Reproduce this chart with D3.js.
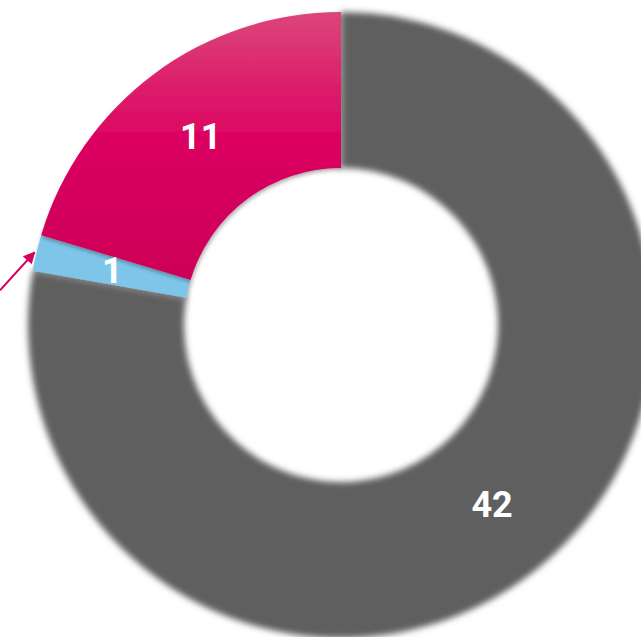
<script src="https://d3js.org/d3.v7.min.js"></script>
<style>
  body { margin: 0; background: #fff; }
</style>
<svg width="641" height="637"></svg>
<script>
  // slice data, clockwise from 12 o'clock
  const categories = ['grey', 'blue', 'pink'];
  const values = [42, 1, 11];
  const colors = ['#5f5f5f', '#7dc6ea', 'url(#pinkGrad)'];

  const svg = d3.select('svg');
  const cx = 341, cy = 325;
  const inner = 157, outer = 313;

  const defs = svg.append('defs');

  // pink gradient, lighter at the top (coords relative to the pie centre)
  const grad = defs.append('linearGradient')
    .attr('id', 'pinkGrad')
    .attr('gradientUnits', 'userSpaceOnUse')
    .attr('x1', 0).attr('y1', -outer).attr('x2', 0).attr('y2', -45);
  grad.append('stop').attr('offset', '0%').attr('stop-color', '#dc4679');
  grad.append('stop').attr('offset', '45%').attr('stop-color', '#dc0662');
  grad.append('stop').attr('offset', '100%').attr('stop-color', '#cc0057');

  // soft edge on the grey slice
  defs.append('filter').attr('id', 'soft')
    .attr('x', '-10%').attr('y', '-10%').attr('width', '120%').attr('height', '120%')
    .append('feGaussianBlur').attr('stdDeviation', 3.2);

  // small drop shadow for the coloured slices
  const sh = defs.append('filter').attr('id', 'shadow')
    .attr('x', '-10%').attr('y', '-10%').attr('width', '120%').attr('height', '120%');
  sh.append('feDropShadow')
    .attr('dx', 1).attr('dy', 2).attr('stdDeviation', 2)
    .attr('flood-color', '#000').attr('flood-opacity', 0.35);

  // arrow marker
  defs.append('marker')
    .attr('id', 'arrow')
    .attr('viewBox', '0 0 10 10')
    .attr('refX', 9).attr('refY', 5)
    .attr('markerWidth', 6).attr('markerHeight', 6)
    .attr('orient', 'auto')
    .append('path')
    .attr('d', 'M0,0 L10,5 L0,10 z')
    .attr('fill', '#d8005e');

  const pie = d3.pie().sort(null).value(d => d);
  const arcs = pie(values);
  const arc = d3.arc().innerRadius(inner).outerRadius(outer);

  const g = svg.append('g').attr('transform', `translate(${cx},${cy})`);

  // grey first (blurred), coloured slices on top
  g.selectAll('path.slice')
    .data(arcs)
    .join('path')
    .attr('class', 'slice')
    .attr('d', arc)
    .attr('fill', (d, i) => colors[i])
    .attr('filter', (d, i) => i === 0 ? 'url(#soft)' : 'url(#shadow)');

  // pointer arrow to the thin blue slice
  const blue = arcs[1];
  const tipA = (blue.startAngle + blue.endAngle) / 2;
  const tipX = cx + (outer + 2) * Math.sin(tipA);
  const tipY = cy - (outer + 2) * Math.cos(tipA);
  svg.append('line')
    .attr('x1', 0).attr('y1', tipY + 38)
    .attr('x2', tipX).attr('y2', tipY)
    .attr('stroke', '#d8005e')
    .attr('stroke-width', 2)
    .attr('marker-end', 'url(#arrow)');

  // value labels
  g.selectAll('text')
    .data(arcs)
    .join('text')
    .attr('transform', d => `translate(${arc.centroid(d)})`)
    .attr('text-anchor', 'middle')
    .attr('dominant-baseline', 'central')
    .style('font-family', 'Roboto, sans-serif')
    .style('font-weight', 'bold')
    .style('font-size', '36px')
    .style('fill', '#fff')
    .text(d => d.data);
</script>
